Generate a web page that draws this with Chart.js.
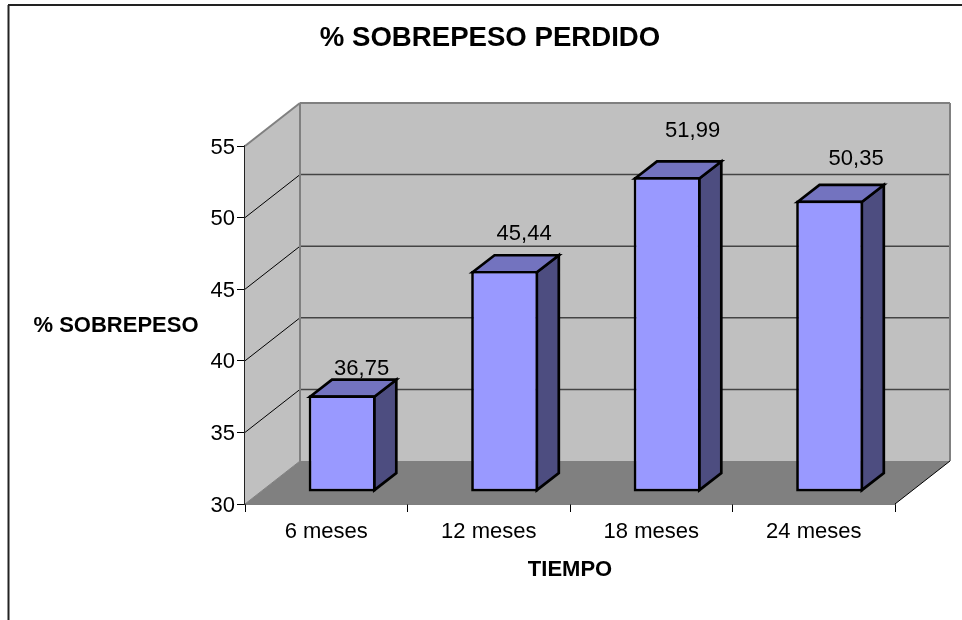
<!DOCTYPE HTML>
<html>
<head>
    <title>% Sobrepeso perdido</title>
    <meta charset="utf-8" />
    <script src="https://cdn.jsdelivr.net/npm/chart.js"></script>
    <style>
        html, body { margin: 0; padding: 0; background: #fff; }
        canvas { display: block; }
    </style>
</head>
<body>
    <canvas id="sobrepesoChart" width="962" height="620"></canvas>

    <script>
        // Data
        const categories = ['6 meses', '12 meses', '18 meses', '24 meses'];
        const sobrepeso = [36.75, 45.44, 51.99, 50.35];
        const valueLabels = ['36,75', '45,44', '51,99', '50,35'];

        const FONT = '"Liberation Sans", Arial, sans-serif';

        // Fake 3D: how far the back wall and the bars sit behind the axis plane
        const WALL_DX = 55, WALL_DY = -43;
        const BAR_SHIFT_X = 15.9, BAR_SHIFT_Y = -12;
        const BAR_DX = 22, BAR_DY = -17;
        const BAR_LINE = 2.7;
        // label nudges relative to the top of each bar's front face
        const LABEL_DX = [20, 20, 26, 27];
        const LABEL_DY = [-26, -37, -46, -42];

        function poly(ctx, pts, fill, stroke, lw) {
            ctx.beginPath();
            pts.forEach((p, i) => i ? ctx.lineTo(p[0], p[1]) : ctx.moveTo(p[0], p[1]));
            ctx.closePath();
            if (fill) { ctx.fillStyle = fill; ctx.fill(); }
            if (stroke) { ctx.strokeStyle = stroke; ctx.lineWidth = lw; ctx.lineJoin = 'miter'; ctx.stroke(); }
        }

        function line(ctx, x1, y1, x2, y2, color, lw) {
            ctx.beginPath();
            ctx.moveTo(x1, y1);
            ctx.lineTo(x2, y2);
            ctx.strokeStyle = color;
            ctx.lineWidth = lw;
            ctx.stroke();
        }

        const box3d = {
            id: 'box3d',
            beforeDraw(chart) {
                // outer frame: only top and left show in the picture
                const ctx = chart.ctx;
                line(ctx, 8.5, 620, 8.5, 5, '#222', 2);
                line(ctx, 8, 5, 962, 5, '#222', 2);
            },
            beforeDatasetsDraw(chart) {
                const ctx = chart.ctx;
                const { left, right, top, bottom } = chart.chartArea;
                const dx = WALL_DX, dy = WALL_DY;

                ctx.save();
                // side wall, back wall, floor
                poly(ctx, [[left, top], [left + dx, top + dy], [left + dx, bottom + dy], [left, bottom]], '#c0c0c0');
                poly(ctx, [[left + dx, top + dy], [right + dx, top + dy], [right + dx, bottom + dy], [left + dx, bottom + dy]], '#c0c0c0');
                poly(ctx, [[left, bottom], [left + dx, bottom + dy], [right + dx, bottom + dy], [right, bottom]], '#808080');

                // grid lines go round the corner
                chart.scales.y.ticks.forEach(t => {
                    if (t.value === 30 || t.value === 55) return;
                    const y = chart.scales.y.getPixelForValue(t.value);
                    line(ctx, left, y, left + dx, y + dy, '#000', 1);
                    line(ctx, left + dx, y + dy, right + dx, y + dy, '#444', 1.5);
                });

                // wall edges
                line(ctx, left, top, left + dx, top + dy, '#808080', 2);
                line(ctx, left + dx, top + dy, right + dx, top + dy, '#808080', 2);
                line(ctx, left + dx, top + dy, left + dx, bottom + dy, '#808080', 2);
                line(ctx, right + dx, top + dy, right + dx, bottom + dy, '#808080', 2);
                line(ctx, left, bottom, left + dx, bottom + dy, '#808080', 1);
                line(ctx, right, bottom, right + dx, bottom + dy, '#000', 1);
                ctx.restore();
            },
            beforeDatasetDraw(chart, args) {
                const ctx = chart.ctx;
                const inset = BAR_LINE / 2;
                ctx.save();
                ctx.translate(BAR_SHIFT_X, BAR_SHIFT_Y);
                args.meta.data.forEach(bar => {
                    const l = bar.x - bar.width / 2 + inset, r = bar.x + bar.width / 2 - inset;
                    const t = bar.y + inset, b = bar.base - inset;
                    poly(ctx, [[r, t], [r + BAR_DX, t + BAR_DY], [r + BAR_DX, b + BAR_DY], [r, b]], '#4d4d80', '#000', BAR_LINE);
                    poly(ctx, [[l, t], [l + BAR_DX, t + BAR_DY], [r + BAR_DX, t + BAR_DY], [r, t]], '#7373bf', '#000', BAR_LINE);
                });
            },
            afterDatasetDraw(chart) {
                chart.ctx.restore();
            },
            afterDatasetsDraw(chart) {
                const ctx = chart.ctx;
                const meta = chart.getDatasetMeta(0);
                ctx.save();
                ctx.fillStyle = '#000';
                ctx.textAlign = 'center';
                ctx.textBaseline = 'middle';
                ctx.font = '22px ' + FONT;
                meta.data.forEach((bar, i) => {
                    ctx.fillText(valueLabels[i], bar.x + 15.4 + LABEL_DX[i], bar.y - 12 + LABEL_DY[i]);
                });
                // horizontal y axis title, Chart.js only rotates it
                ctx.font = 'bold 22px ' + FONT;
                ctx.fillText('% SOBREPESO', 116, 326);
                ctx.restore();
            }
        };

        new Chart(document.getElementById('sobrepesoChart').getContext('2d'), {
            type: 'bar',
            data: {
                labels: categories,
                datasets: [{
                    label: '% SOBREPESO',
                    data: sobrepeso,
                    base: 30,
                    backgroundColor: '#9999ff',
                    borderColor: '#000',
                    borderWidth: BAR_LINE,
                    borderSkipped: false,
                    categoryPercentage: 1,
                    barPercentage: 67 / 162.5,
                    clip: false
                }]
            },
            options: {
                responsive: false,
                animation: false,
                layout: { padding: { left: 85, right: 67, top: 5, bottom: 0 } },
                plugins: {
                    legend: { display: false },
                    tooltip: { enabled: false },
                    title: {
                        display: true,
                        text: '% SOBREPESO PERDIDO',
                        color: '#000',
                        font: { family: FONT, size: 27.6, weight: 'bold' },
                        padding: { top: 17, bottom: 90.9 }
                    }
                },
                scales: {
                    x: {
                        afterFit: scale => { scale.height = 116; },
                        border: { color: '#000', width: 1.5 },
                        grid: { drawOnChartArea: false, tickLength: 8, color: '#000' },
                        ticks: { color: '#000', padding: 7, font: { family: FONT, size: 22 }, maxRotation: 0 },
                        title: {
                            display: true,
                            text: 'TIEMPO',
                            color: '#000',
                            font: { family: FONT, size: 22, weight: 'bold' },
                            padding: { top: 4, bottom: 37 }
                        }
                    },
                    y: {
                        min: 30,
                        max: 55,
                        afterFit: scale => { scale.width = 160; },
                        border: { color: '#222', width: 1.5 },
                        grid: { drawOnChartArea: false, tickLength: 8, color: '#000' },
                        ticks: { stepSize: 5, color: '#000', padding: 2, labelOffset: 1.5, font: { family: FONT, size: 22 } }
                    }
                }
            },
            plugins: [box3d]
        });
    </script>
</body>
</html>
